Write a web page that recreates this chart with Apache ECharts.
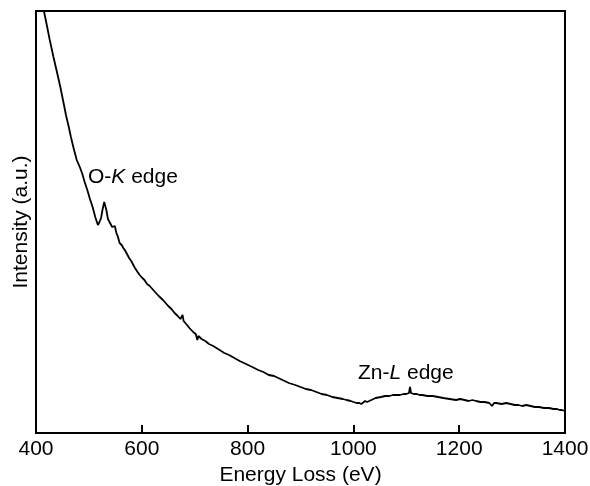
<!DOCTYPE html>
<html>
<head>
<meta charset="utf-8">
<script src="https://cdn.jsdelivr.net/npm/echarts@6/dist/echarts.min.js"></script>
<style>html,body{margin:0;padding:0;background:#fff}#c{width:590px;height:486px}</style>
</head>
<body>
<div id="c"></div>
<script>
const energy = [410,415,420,426,433,440,446,451,457,462,466,471,477,482,487,492,497,502,507,512,517,520,523,526,529,531,533,536,540,544,547,549,552,555,558,562,565,569,572,576,580,584,587,592,596,601,605,610,615,620,625,632,640,645,650,656,662,668,673,675,677,679,684,690,697,702,704,705,707,713,720,727,735,741,747,756,765,775,785,797,809,820,830,840,850,858,866,878,890,900,910,920,930,940,950,960,970,980,987,995,1000,1006,1011,1015,1018,1022,1026,1030,1034,1038,1042,1045,1052,1060,1068,1075,1081,1088,1095,1100,1105,1107,1109,1114,1120,1125,1130,1140,1150,1160,1170,1182,1194,1202,1210,1218,1225,1232,1240,1248,1257,1262,1266,1270,1280,1289,1297,1305,1312,1319,1327,1335,1343,1351,1360,1370,1378,1385,1390,1394,1400];
const intensity = [436,422,409,393,376,360,346,333,317,306,296,285,273,267,260,251,243,234,226,216,208,211,215,224,231,233,223,214,210,206,208,207,200,196,190,188,185,182,180,175,172,168,165,161,158,155,153,149,147,144,141,137,133,130,127,124,120,117,114,113,118,112,109,105,101,99,98,93,97,94,92,89,87,85,83,80,78,75,72,69,66,63,61,58,57,55,53,50,48,46,44,43,41,39,38,36,35,34,33,32,31,30,30,29,30,32,31,32,33,34,35,36,36,37,37,38,38,38,39,39,40,46,40,39,39,38,38,37,37,36,35,34,33,34,33,32,33,32,31,31,30,27,30,30,29,30,29,28,28,27,28,27,26,26,25,25,24,24,23,23,22];

const data = energy.map((e, i) => [e, intensity[i]]);
const xTicks = [400, 600, 800, 1000, 1200, 1400];
const FONT = 'Liberation Sans';

const chart = echarts.init(document.getElementById('c'), null, {renderer: 'canvas'});
chart.setOption({
  animation: false,
  backgroundColor: '#fff',
  grid: {left: 36, right: 25, top: 11, bottom: 53, show: true, borderColor: '#000', borderWidth: 2, containLabel: false, outerBoundsMode: 'none'},
  xAxis: {
    type: 'value', min: xTicks[0], max: xTicks[xTicks.length - 1], interval: 200,
    name: 'Energy Loss (eV)', nameLocation: 'middle', nameGap: 28,
    nameTextStyle: {fontFamily: FONT, fontSize: 21, color: '#000'},
    axisLine: {show: true, lineStyle: {color: '#000', width: 2}},
    axisTick: {show: true, inside: true, length: 8, lineStyle: {color: '#000', width: 2}},
    axisLabel: {fontFamily: FONT, fontSize: 21, color: '#000', margin: 6, formatter: v => String(v)},
    splitLine: {show: false}
  },
  yAxis: {
    type: 'value', min: 0, max: 422,
    name: 'Intensity (a.u.)', nameLocation: 'middle', nameGap: 4,
    nameTextStyle: {fontFamily: FONT, fontSize: 21, color: '#000'},
    axisLine: {show: true, lineStyle: {color: '#000', width: 2}},
    axisTick: {show: false}, axisLabel: {show: false}, splitLine: {show: false}
  },
  series: [{
    type: 'line', data: data, showSymbol: false, symbol: 'none', clip: true,
    lineStyle: {color: '#000', width: 1.8}
  }],
  graphic: [
    {type: 'text', left: 88, top: 167, style: {
      text: '{n|O-}{i|K}{n| edge}',
      rich: {n: {fontFamily: FONT, fontSize: 21, fill: '#000'}, i: {fontFamily: FONT, fontSize: 21, fontStyle: 'italic', fill: '#000'}}
    }},
    {type: 'text', left: 358, top: 363, style: {
      text: '{n|Zn-}{i|L}{n| edge}',
      rich: {n: {fontFamily: FONT, fontSize: 21, fill: '#000'}, i: {fontFamily: FONT, fontSize: 21, fontStyle: 'italic', fill: '#000'}}
    }}
  ]
});
</script>
</body>
</html>
